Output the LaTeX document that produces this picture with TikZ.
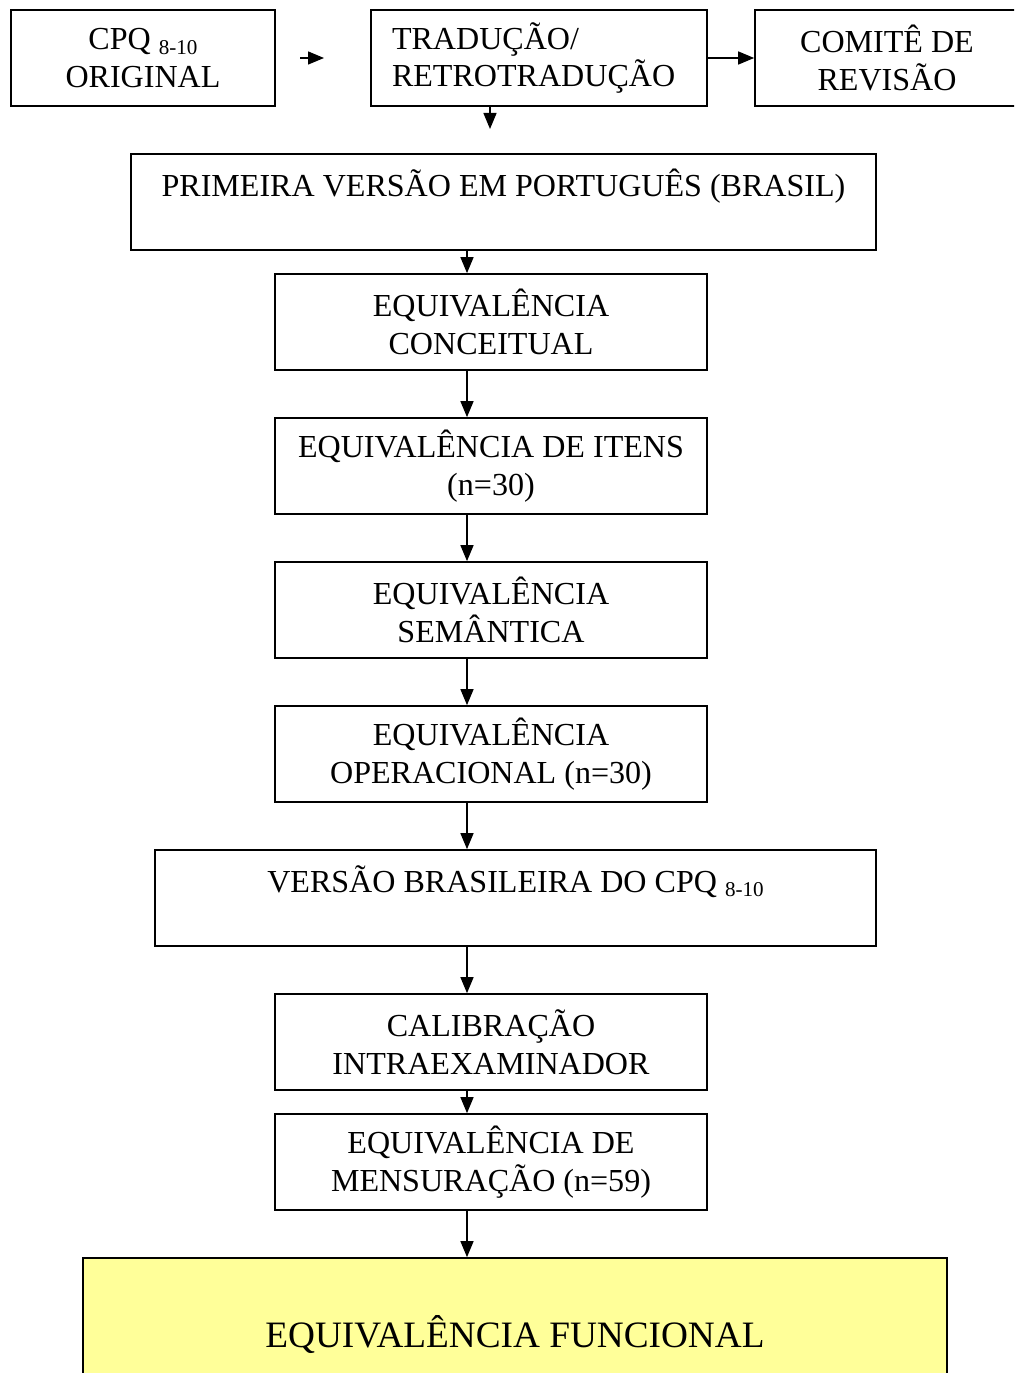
\documentclass[tikz,border=0pt]{standalone}
\usepackage{fontspec}
\setmainfont{Liberation Serif}
\usetikzlibrary{arrows.meta,calc}
\definecolor{funcyellow}{HTML}{FFFF99}
\newcommand\pxu{0.025cm}
\newcommand\subsc[1]{\raisebox{-3.5pt}{\fontsize{15}{15}\selectfont #1}}
\begin{document}
\begin{tikzpicture}[x=0.025cm,y=-0.025cm,
  box/.style={draw=black,line width=1.2pt,inner sep=0pt,align=center,
    minimum height=96*\pxu,font=\fontsize{22.8}{27}\selectfont},
  topbox/.style={box,text height=42*\pxu,text depth=54*\pxu},
  arr/.style={line width=1pt,-{Triangle[length=16*\pxu,width=13*\pxu]}}]
\useasboundingbox (0,0) rectangle (1014,1373);
\clip (0,0) rectangle (1014,1373);
% top row
\node[box,minimum width=264*\pxu] (a) at (143,58) {CPQ \subsc{8-10}\\ORIGINAL};
\node[box,minimum width=336*\pxu,text width=294*\pxu,align=left] (b) at (539,58) {TRADUÇÃO/\\RETROTRADUÇÃO};
\node[box,minimum width=264*\pxu] (c) at (887,58) {COMITÊ DE\\REVISÃO};
% column
\node[topbox,minimum width=745*\pxu] (d) at (503.5,202) {PRIMEIRA VERSÃO EM PORTUGUÊS (BRASIL)};
\node[box,minimum width=432*\pxu] (e) at (491,322) {EQUIVALÊNCIA\\CONCEITUAL};
\node[box,minimum width=432*\pxu] (f) at (491,466) {EQUIVALÊNCIA DE ITENS\\(n=30)};
\node[box,minimum width=432*\pxu] (g) at (491,610) {EQUIVALÊNCIA\\SEMÂNTICA};
\node[box,minimum width=432*\pxu] (h) at (491,754) {EQUIVALÊNCIA\\OPERACIONAL (n=30)};
\node[topbox,minimum width=721*\pxu] (i) at (515.5,898) {VERSÃO BRASILEIRA DO CPQ \subsc{8-10}};
\node[box,minimum width=432*\pxu] (j) at (491,1042) {CALIBRAÇÃO\\INTRAEXAMINADOR};
\node[box,minimum width=432*\pxu] (k) at (491,1162) {EQUIVALÊNCIA DE\\MENSURAÇÃO (n=59)};
\node[box,fill=funcyellow,minimum width=864*\pxu,minimum height=154*\pxu,
  font=\fontsize{26.5}{30}\selectfont] (l) at (515,1335) {EQUIVALÊNCIA FUNCIONAL};
% connectors
\coordinate (a1) at (300,58);
\coordinate (a2) at (324,58);
\draw[arr] (a1) -- (a2);
\draw[arr] (b.east) -- (c.west);
\coordinate (bdown) at (490,129);
\draw[arr] (bdown |- b.south) -- (bdown);
\coordinate (col) at (467,0);
\draw[arr] (col |- d.south) -- (col |- e.north);
\draw[arr] (col |- e.south) -- (col |- f.north);
\draw[arr] (col |- f.south) -- (col |- g.north);
\draw[arr] (col |- g.south) -- (col |- h.north);
\draw[arr] (col |- h.south) -- (col |- i.north);
\draw[arr] (col |- i.south) -- (col |- j.north);
\draw[arr] (col |- j.south) -- (col |- k.north);
\draw[arr] (col |- k.south) -- (col |- l.north);
\end{tikzpicture}
\end{document}
